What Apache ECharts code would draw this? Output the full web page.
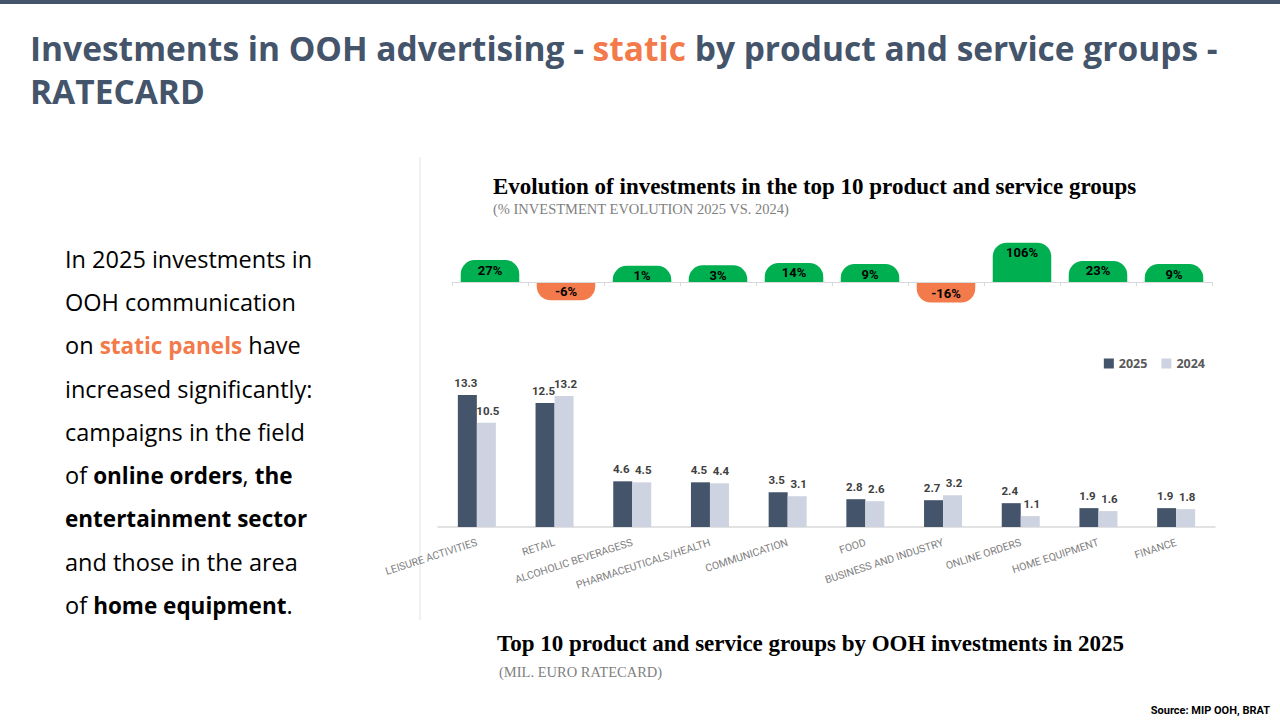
<!DOCTYPE html>
<html>
<head>
<meta charset="utf-8">
<script src="https://cdn.jsdelivr.net/npm/echarts@6/dist/echarts.min.js"></script>
<style>
html,body{margin:0;padding:0;background:#fff;}
#chart{width:1280px;height:720px;}
</style>
</head>
<body>
<div id="chart"></div>
<script>
var categories = ['LEISURE ACTIVITIES','RETAIL','ALCOHOLIC BEVERAGESS','PHARMACEUTICALS/HEALTH','COMMUNICATION','FOOD','BUSINESS AND INDUSTRY','ONLINE ORDERS','HOME EQUIPMENT','FINANCE'];
var invest2025 = [13.3,12.5,4.6,4.5,3.5,2.8,2.7,2.4,1.9,1.9];
var invest2024 = [10.5,13.2,4.5,4.4,3.1,2.6,3.2,1.1,1.6,1.8];
var evolution = [27,-6,1,3,14,9,-16,106,23,9];
var seriesNames = ['2025','2024'];

var DARK = '#44546A', LIGHT = '#CDD3E0', GREEN = '#00B050', ORANGE = '#F37A4A', TITLE = '#44546A';

var chart = echarts.init(document.getElementById('chart'), null, {renderer:'svg'});

var evoData = evolution.map(function(v,i){return [i,v];});

var barLabel = {show:true, position:'top', distance:6, color:'#404040', fontWeight:'bold', fontSize:11.5, fontFamily:'Roboto'};

var option = {
  animation:false,
  backgroundColor:'#fff',
  grid:[
    {left:452, right:68, top:249, bottom:427},
    {left:438, right:65, top:388, bottom:193}
  ],
  xAxis:[
    {gridIndex:0, type:'category', data:categories, boundaryGap:true,
     axisLine:{lineStyle:{color:'#d9d9d9', width:1}},
     axisTick:{show:true, length:4, interval:0, lineStyle:{color:'#d9d9d9'}},
     axisLabel:{show:false}},
    {gridIndex:1, type:'category', data:categories, boundaryGap:true,
     axisLine:{lineStyle:{color:'#d9d9d9', width:1.5}},
     axisTick:{show:false},
     axisLabel:{interval:0, rotate:18, margin:15, color:'#808080', fontSize:10.5, fontFamily:'Roboto'}}
  ],
  yAxis:[
    {gridIndex:0, type:'value', min:-50, max:150, show:false, splitLine:{show:false}},
    {gridIndex:1, type:'value', min:0, max:14, show:false, splitLine:{show:false}}
  ],
  legend:{
    data:seriesNames, right:70, top:352, icon:'rect', itemWidth:10, itemHeight:10, itemGap:14,
    textStyle:{color:'#595959', fontWeight:'bold', fontSize:12.5, fontFamily:'Open Sans'}
  },
  series:[
    {
      type:'custom', xAxisIndex:0, yAxisIndex:0, data:evoData, clip:false,
      renderItem:function(params, api){
        var cat = api.value(0), v = api.value(1);
        var base = api.coord([cat,0]);
        var top = api.coord([cat,v]);
        var bw = api.size([1,0])[0]*0.77;
        var cap = 16;
        var pos = v >= 0;
        var h = Math.abs(top[1]-base[1]) + cap;
        var y1 = pos ? base[1]-h : base[1]+1;
        var r = 14;
        return {type:'group', children:[
          {type:'rect', shape:{x:base[0]-bw/2, y:y1, width:bw, height:h, r: pos?[r,r,0,0]:[0,0,r,r]},
           style:{fill: pos?GREEN:ORANGE}},
          {type:'text', style:{text:v+'%', x:base[0], y: pos? y1+10 : y1+h-9, align:'center', verticalAlign:'middle',
             fill:'#000', font:'bold 13px Roboto'}}
        ]};
      }
    },
    {
      name:'2025', type:'bar', xAxisIndex:1, yAxisIndex:1, data:invest2025, barWidth:19, barGap:'0%',
      itemStyle:{color:DARK},
      label:Object.assign({}, barLabel, {offset:[-1.5,0]})
    },
    {
      name:'2024', type:'bar', xAxisIndex:1, yAxisIndex:1, data:invest2024, barWidth:19, barGap:'0%',
      itemStyle:{color:LIGHT},
      label:Object.assign({}, barLabel, {offset:[1.5,0]})
    }
  ],
  graphic:[
    {type:'rect', left:0, top:0, shape:{x:0,y:0,width:1280,height:4}, style:{fill:TITLE}},
    {type:'line', shape:{x1:420,y1:157,x2:420,y2:620}, style:{stroke:'#e3e3e3', lineWidth:1}},
    {type:'text', x:30, y:26, style:{
      text:'{a|Investments in OOH advertising - }{o|static}{a| by product and service groups -}\n{a|RATECARD}',
      rich:{
        a:{fill:TITLE, fontSize:33.5, fontWeight:'bold', fontFamily:'Open Sans', lineHeight:43},
        o:{fill:ORANGE, fontSize:33.5, fontWeight:'bold', fontFamily:'Open Sans', lineHeight:43}
      }}},
    {type:'text', x:65, y:237, style:{
      text:'{n|In 2025 investments in}\n{n|OOH communication}\n{n|on }{o|static panels}{n| have}\n{n|increased significantly:}\n{n|campaigns in the field}\n{n|of }{b|online orders}{n|, }{b|the}\n{b|entertainment sector}\n{n|and those in the area}\n{n|of }{b|home equipment}{n|.}',
      rich:{
        n:{fill:'#000', fontSize:23.5, fontFamily:'Open Sans', lineHeight:43.3},
        o:{fill:ORANGE, fontSize:22.5, fontWeight:'bold', fontFamily:'Open Sans', lineHeight:43.3},
        b:{fill:'#000', fontSize:22.5, fontWeight:'bold', fontFamily:'Open Sans', lineHeight:43.3}
      }}},
    {type:'text', x:493, y:186, style:{text:'Evolution of investments in the top 10 product and service groups', fill:'#000',
      font:'bold 23px "Liberation Serif"', verticalAlign:'middle'}},
    {type:'text', x:493, y:209, style:{text:'(% INVESTMENT EVOLUTION 2025 VS. 2024)', fill:'#7f7f7f',
      font:'14.5px "Liberation Serif"', verticalAlign:'middle'}},
    {type:'text', x:497, y:643, style:{text:'Top 10 product and service groups by OOH investments in 2025', fill:'#000',
      font:'bold 23px "Liberation Serif"', verticalAlign:'middle'}},
    {type:'text', x:499, y:672, style:{text:'(MIL. EURO RATECARD)', fill:'#7f7f7f',
      font:'14.5px "Liberation Serif"', verticalAlign:'middle'}},
    {type:'text', x:1270, y:710, style:{text:'Source: MIP OOH, BRAT', fill:'#000', align:'right',
      font:'bold 11px Roboto', verticalAlign:'middle'}}
  ]
};
chart.setOption(option);
</script>
</body>
</html>
